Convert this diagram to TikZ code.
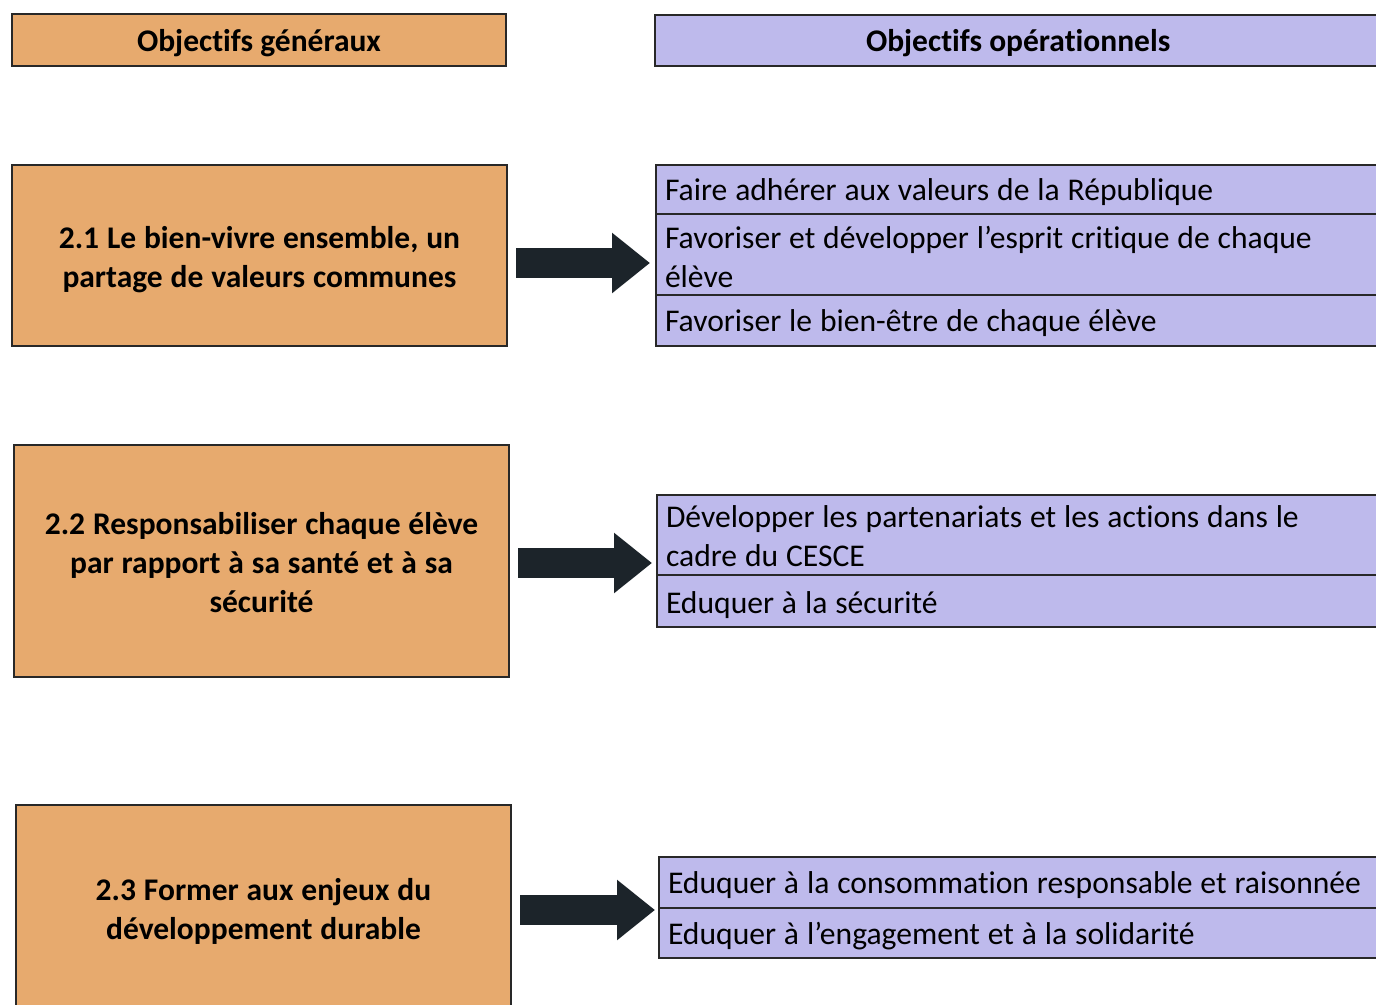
\documentclass[tikz,border=0pt]{standalone}
\usepackage{fontspec}
\setmainfont{Carlito}[Ligatures=NoCommon]
\usetikzlibrary{arrows.meta}
\definecolor{orangebox}{RGB}{231,170,110}
\definecolor{lavbox}{RGB}{190,186,236}
\definecolor{edge}{RGB}{40,40,40}
\definecolor{arrowc}{RGB}{28,36,42}
\newcommand{\natsp}{\spaceskip=0.25em plus 0.1em minus 0.05em\relax}
\newcommand{\rowtxt}[2]{\raisebox{-#1}[\height][\depth]{\parbox{712pt}{\raggedright\natsp #2}}}
\newcommand{\gentxt}[2]{\raisebox{-#1}[\height][\depth]{\parbox{485pt}{\centering\natsp #2}}}
\tikzset{
  x=1pt,y=-1pt,
  boldtxt/.style={font=\fontsize{31.5}{39}\selectfont\bfseries},
  regtxt/.style={font=\fontsize{31.6}{39}\selectfont},
  genbox/.style={draw=edge,line width=2pt,fill=orangebox,inner sep=0pt,boldtxt},
  ophead/.style={draw=edge,line width=2pt,fill=lavbox,inner sep=0pt,boldtxt},
  oprow/.style={draw=edge,line width=2pt,fill=lavbox,inner xsep=9pt,inner ysep=0pt,anchor=north west,minimum width=730pt,regtxt},
  bigarrow/.style={draw=arrowc,line width=30pt,-{Triangle[length=38pt,width=58pt]},arrowc}
}
\begin{document}
\begin{tikzpicture}
\useasboundingbox (0,0) rectangle (1376,1004);
\clip (0,0) rectangle (1376,1004);
\fill[white] (0,0) rectangle (1376,1004);
% headers
\node[genbox,minimum width=494pt,minimum height=52pt] (hg) at (259,40) {\raisebox{-3pt}[\height][\depth]{Objectifs généraux}};
\node[ophead,anchor=north west,minimum width=730pt,minimum height=51pt] (ho) at (654,14) {\makebox[724pt][l]{\hspace*{208pt}\raisebox{-3pt}[\height][\depth]{Objectifs opérationnels}}};
% general boxes
\node[genbox,minimum width=495pt,minimum height=181pt] (b1) at (259.5,255.5) {\gentxt{4pt}{2.1 Le bien-vivre ensemble, un\\partage de valeurs communes}};
\node[genbox,minimum width=495pt,minimum height=232pt] (b2) at (261.5,561) {\gentxt{2pt}{2.2 Responsabiliser chaque élève\\par rapport à sa santé et à sa\\sécurité}};
\node[genbox,minimum width=495pt,minimum height=210pt] (b3) at (263.5,910) {\gentxt{1pt}{2.3 Former aux enjeux du\\développement durable}};
% operational rows group 1
\node[oprow,minimum height=49pt] (r1a) at (655,164) {\rowtxt{3pt}{Faire adhérer aux valeurs de la République}};
\node[oprow,minimum height=81pt] (r1b) at (655,213) {\rowtxt{2pt}{Favoriser et développer l’esprit critique de chaque\\élève}};
\node[oprow,minimum height=51pt] (r1c) at (655,294) {\rowtxt{3pt}{Favoriser le bien-être de chaque élève}};
% group 2
\node[oprow,minimum height=80pt] (r2a) at (656,494) {\rowtxt{1pt}{Développer les partenariats et les actions dans le\\cadre du CESCE}};
\node[oprow,minimum height=52pt] (r2b) at (656,574) {\rowtxt{4pt}{Eduquer à la sécurité}};
% group 3
\node[oprow,minimum height=51pt] (r3a) at (658,856) {\rowtxt{3pt}{Eduquer à la consommation responsable et raisonnée}};
\node[oprow,minimum height=50pt] (r3b) at (658,907) {\rowtxt{3pt}{Eduquer à l’engagement et à la solidarité}};
% arrows
\coordinate (y1) at (0,263);
\coordinate (y2) at (0,563);
\coordinate (y3) at (0,910);
\draw[bigarrow,shorten <=8pt,shorten >=5pt] (b1.east |- y1) -- (r1b.west |- y1);
\draw[bigarrow,shorten <=8pt,shorten >=4pt] (b2.east |- y2) -- (r2a.west |- y2);
\draw[bigarrow,shorten <=8pt,shorten >=3pt] (b3.east |- y3) -- (r3a.west |- y3);
\end{tikzpicture}
\end{document}
